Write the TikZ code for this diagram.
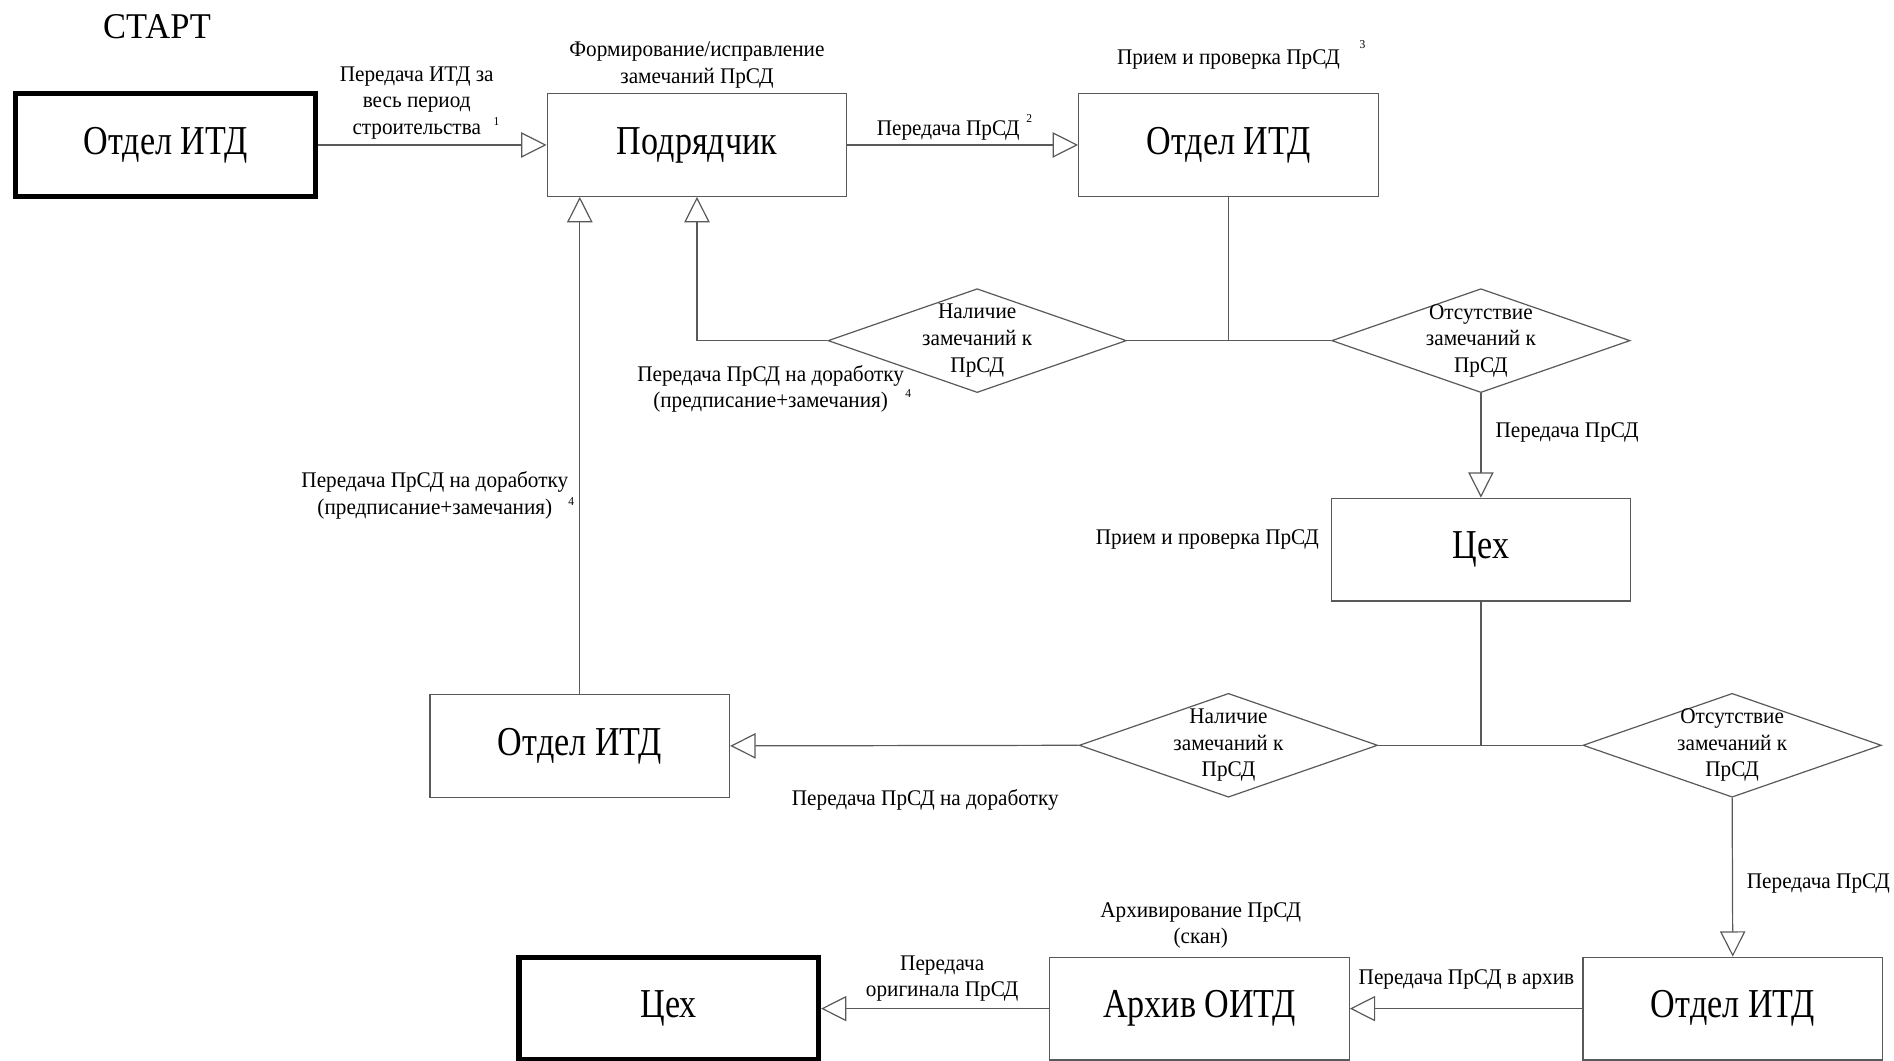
\documentclass[tikz,border=0pt]{standalone}
\usepackage{fontspec}
\setmainfont{Liberation Serif}
\newfontfamily\labfam[FakeStretch=0.95]{Liberation Serif}
\newfontfamily\bigfam[FakeStretch=0.83]{Liberation Serif}
\usetikzlibrary{arrows.meta,shapes.geometric}
\begin{document}
\begin{tikzpicture}[x=1pt,y=-1pt,
  box/.style={draw=black!65, line width=1pt, minimum width=248pt, minimum height=85pt, inner sep=0pt, font=\bigfam\fontsize{34}{40}\selectfont},
  thickbox/.style={box, draw=black, line width=4.5pt},
  dia/.style={draw=black!65, line width=1pt, shape=diamond, minimum width=247pt, minimum height=86pt, inner sep=0pt},
  lab/.style={font=\labfam\fontsize{18.5}{22}\selectfont, align=center, inner sep=0pt},
  suplab/.style={font=\labfam\fontsize{10}{11}\selectfont, inner sep=0pt},
  conn/.style={draw=black!65, line width=1pt},
  arr/.style={conn, -{Triangle[open, length=21pt, width=21pt, line width=1pt]}},
]
\useasboundingbox (0,0) rectangle (1568,878);

% title
\node[font=\labfam\fontsize{30}{34}\selectfont, inner sep=0pt] (start) at (130,22) {СТАРТ};

% boxes
\node[thickbox] (A) at (137,120) {Отдел ИТД};
\node[box] (B) at (577,120) {Подрядчик};
\node[box] (C) at (1017,120) {Отдел ИТД};
\node[box] (E) at (1226,455) {Цех};
\node[box] (F) at (480,617.5) {Отдел ИТД};
\node[box] (G) at (1434.5,835) {Отдел ИТД};
\node[box] (H) at (993,835) {Архив ОИТД};
\node[thickbox] (I) at (553.5,835) {Цех};

% diamonds
\node[dia] (D1) at (809,282) {};
\node[dia] (D2) at (1226,282) {};
\node[dia] (D3) at (1017,617) {};
\node[dia] (D4) at (1434,617) {};
\node[lab] (t1) at (D1) {Наличие\\замечаний к\\ПрСД};
\node[lab] (t2) at (D2) {Отсутствие\\замечаний к\\ПрСД};
\node[lab] (t3) at (D3) {Наличие\\замечаний к\\ПрСД};
\node[lab] (t4) at (D4) {Отсутствие\\замечаний к\\ПрСД};

% connectors
\draw[arr] (A) -- (B);
\draw[arr] (B) -- (C);
\draw[conn] (C.south) -- (C.south |- D1.east);
\draw[conn] (D1.east) -- (D2.west);
\draw[arr] (D1.west) -- (B.south |- D1.west) -- (B.south);
\draw[arr] (D2.south) -- (E.north);
\draw[conn] (E.south) -- (E.south |- D3.east);
\draw[conn] (D3.east) -- (D4.west);
\draw[arr] (D3.west) -- (F.east);
\draw[arr] (F.north) -- (F.north |- B.south);
\draw[arr] (D4.south) -- (G.north);
\draw[arr] (G.west) -- (H.east);
\draw[arr] (H.west) -- (I.east);

% labels
\node[lab] (l1) at (345,85) {Передача ИТД за\\весь период\\строительства};
\node[suplab] (s1) at (411,101) {1};
\node[lab] (l2) at (577,54) {Формирование/исправление\\замечаний ПрСД};
\node[lab] (l3) at (785,108) {Передача ПрСД};
\node[suplab] (s2) at (852,98) {2};
\node[lab] (l4) at (1017,49) {Прием и проверка ПрСД};
\node[suplab] (s3) at (1128,37) {3};
\node[lab] (l5) at (638,322) {Передача ПрСД на доработку\\(предписание+замечания)};
\node[suplab] (s4) at (752,326) {4};
\node[lab, anchor=west] (l6) at (1238,358) {Передача ПрСД};
\node[lab, anchor=east] (l7) at (1092,447) {Прием и проверка ПрСД};
\node[lab] (l8) at (360,410) {Передача ПрСД на доработку\\(предписание+замечания)};
\node[suplab] (s5) at (473,415) {4};
\node[lab] (l9) at (766,662) {Передача ПрСД на доработку};
\node[lab, anchor=west] (l10) at (1446,731) {Передача ПрСД};
\node[lab] (l11) at (994,766) {Архивирование ПрСД\\(скан)};
\node[lab] (l12) at (1214,811) {Передача ПрСД в архив};
\node[lab] (l13) at (780,810) {Передача\\оригинала ПрСД};
\end{tikzpicture}
\end{document}
